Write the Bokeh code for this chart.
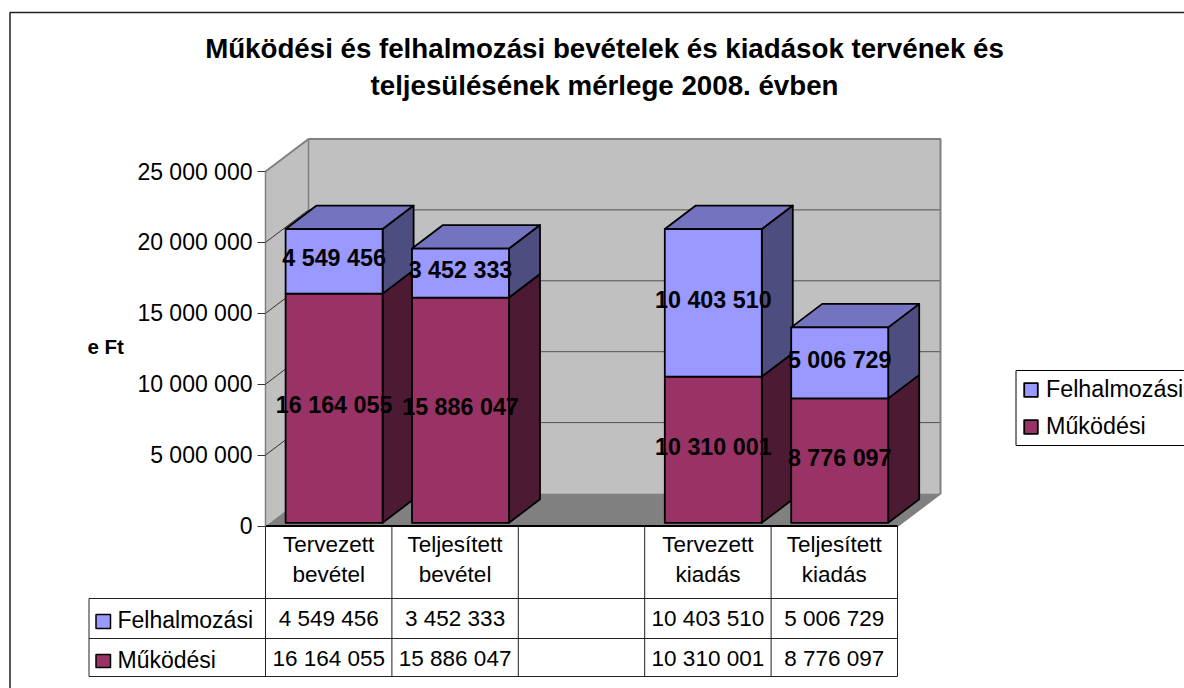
from bokeh.plotting import figure
from bokeh.models import Range1d, FixedTicker, LinearAxis, Legend, LegendItem
from bokeh.core.properties import value
from bokeh.embed import file_html
from bokeh.resources import INLINE

title_lines = ["Működési és felhalmozási bevételek és kiadások tervének és",
               "teljesülésének mérlege 2008. évben"]
categories = [["Tervezett", "bevétel"], ["Teljesített", "bevétel"], ["", ""],
              ["Tervezett", "kiadás"], ["Teljesített", "kiadás"]]
series_names = ["Felhalmozási", "Működési"]
felhalmozasi = [4549456, 3452333, None, 10403510, 5006729]
mukodesi = [16164055, 15886047, None, 10310001, 8776097]
y_ticks = [0, 5000000, 10000000, 15000000, 20000000, 25000000]
y_unit = "e Ft"

C_TOP, C_BOT = "#9999FF", "#993366"
C_TOP_SIDE, C_TOP_CAP, C_BOT_SIDE = "#4D4D80", "#7373BF", "#4D1A33"
FONT = "Liberation Sans"

W, H = 1184, 688
PX_X = 126.4            # px per category
PX_V = 14.18e-6         # px per value
PAGE_X0, PAGE_Y0 = 265, 525.5   # position of the origin


def fmt(v):
    return f"{v:,}".replace(",", " ")


def X(px):
    return (px - PAGE_X0) / PX_X


def Y(py):
    return (PAGE_Y0 - py) / PX_V


def dxp(px):
    return px / PX_X


def dyp(px):
    return px / PX_V


p = figure(width=W, height=H, output_backend="svg", toolbar_location=None, tools="",
           x_axis_location=None, y_axis_location=None,
           x_range=Range1d(X(0), X(W)), y_range=Range1d(Y(H), Y(0)),
           min_border_left=0, min_border_right=0, min_border_top=0, min_border_bottom=0,
           background_fill_color="white", border_fill_color="white")
p.grid.visible = False
p.outline_line_color = None

# walls and floor
WX, WY = dxp(43), dyp(32.5)
VMAX = y_ticks[-1]
N = len(categories)
p.patch([0, WX, WX, 0], [0, WY, VMAX + WY, VMAX], fill_color="#C0C0C0", line_color=None)
p.patch([WX, N + WX, N + WX, WX], [WY, WY, VMAX + WY, VMAX + WY], fill_color="#C0C0C0", line_color=None)
p.patch([0, N, N + WX, WX], [0, 0, WY, WY], fill_color="#808080", line_color=None)
for v in y_ticks[1:-1]:
    p.line([WX, N + WX], [v + WY, v + WY], line_color="#505050", line_width=1)
    p.line([0, WX], [v, v + WY], line_color="#333333", line_width=1)
p.line([0, WX, N + WX, N + WX, N], [VMAX, VMAX + WY, VMAX + WY, WY, 0], line_color="#808080", line_width=2)
p.line([WX, WX], [WY, VMAX + WY], line_color="#808080", line_width=1.5)

# value axis
ax = LinearAxis(fixed_location=0)
ax.ticker = FixedTicker(ticks=y_ticks)
ax.major_label_overrides = {v: fmt(v) for v in y_ticks}
ax.bounds = (0, VMAX)
ax.axis_line_color = "#808080"
ax.axis_line_width = 1.5
ax.major_tick_line_color = "#333333"
ax.major_tick_out = 8
ax.major_tick_in = 0
ax.minor_tick_line_color = None
ax.major_label_standoff = 5
ax.major_label_text_font = FONT
ax.major_label_text_font_size = "23px"
ax.major_label_text_color = "black"
p.add_layout(ax, "left")

# bars
BAR = 97 / PX_X
OFF = dxp(5.4)
BDX, BDY = dxp(31), dyp(23.5)
BASE = dyp(3.2)
idx = [i for i in range(N) if mukodesi[i] is not None]


def faces(lows, highs):
    left = [i + 0.5 + OFF - BAR / 2 for i in idx]
    right = [i + 0.5 + OFF + BAR / 2 for i in idx]
    sx = [[r, r + BDX, r + BDX, r] for r in right]
    sy = [[a, a + BDY, b + BDY, b] for a, b in zip(lows, highs)]
    return left, right, sx, sy


b0 = [BASE] * len(idx)
b1 = [BASE + mukodesi[i] for i in idx]
b2 = [BASE + mukodesi[i] + felhalmozasi[i] for i in idx]
left, right, s1x, s1y = faces(b0, b1)
_, _, s2x, s2y = faces(b1, b2)
line = dict(line_color="black", line_width=1.8, line_join="round")
p.patches(s1x, s1y, fill_color=C_BOT_SIDE, **line)
p.patches(s2x, s2y, fill_color=C_TOP_SIDE, **line)
capx = [[l, r, r + BDX, l + BDX] for l, r in zip(left, right)]
capy = [[t, t, t + BDY, t + BDY] for t in b2]
p.patches(capx, capy, fill_color=C_TOP_CAP, **line)
q_bot = p.quad(left=left, right=right, bottom=b0, top=b1, fill_color=C_BOT, **line)
q_top = p.quad(left=left, right=right, bottom=b1, top=b2, fill_color=C_TOP, **line)

# data labels
lab_x, lab_y, lab_t = [], [], []
for k, i in enumerate(idx):
    lab_x += [i + 0.5 + OFF] * 2
    lab_y += [(b0[k] + b1[k]) / 2 + dyp(3), (b1[k] + b2[k]) / 2 + dyp(3)]
    lab_t += [fmt(mukodesi[i]), fmt(felhalmozasi[i])]
p.text(lab_x, lab_y, text=lab_t, text_font=value(FONT), text_font_style="bold",
       text_font_size="23.3px", text_align="center", text_baseline="middle", text_color="black")

# data table
T_ROWS = [598, 638, 676]
T_LEFT = X(88.5)
for py in T_ROWS:
    p.line([T_LEFT, N], [Y(py), Y(py)], line_color="#222222", line_width=1)
p.line([T_LEFT, T_LEFT], [Y(T_ROWS[0]), Y(T_ROWS[-1])], line_color="#222222", line_width=1)
for c in range(N + 1):
    p.line([c, c], [0, Y(T_ROWS[-1])], line_color="#222222", line_width=1)
p.line([0, N], [0, 0], line_color="black", line_width=2)
h1, h2 = zip(*categories)
cx = [c + 0.5 for c in range(N)]
tkw = dict(text_font=value(FONT), text_font_size="22.5px", text_align="center",
           text_baseline="middle", text_color="black")
p.text(cx, [Y(544)] * N, text=list(h1), **tkw)
p.text(cx, [Y(574)] * N, text=list(h2), **tkw)
p.text([c + 0.5 for c in idx], [Y(618)] * len(idx), text=[fmt(felhalmozasi[i]) for i in idx], **tkw)
p.text([c + 0.5 for c in idx], [Y(658)] * len(idx), text=[fmt(mukodesi[i]) for i in idx], **tkw)
p.quad(left=[X(95.5), X(95.5)], right=[X(110), X(110)], top=[Y(614), Y(654)], bottom=[Y(628), Y(667)],
       fill_color=[C_TOP, C_BOT], line_color="black", line_width=1.5)
lkw = dict(text_font=value(FONT), text_font_size="23px", text_baseline="middle", text_color="black")
p.text([X(117), X(117)], [Y(619), Y(659)], text=series_names, **lkw)

# chart border
p.line([X(9.5), X(9.5), X(W)], [Y(H), Y(12), Y(12)], line_color="#222222", line_width=1.5)

# titles
p.text([X(604), X(604)], [Y(48), Y(85)], text=title_lines, text_font=value(FONT), text_font_style="bold",
       text_font_size="27.7px", text_align="center", text_baseline="middle", text_color="black")
p.text([X(87)], [Y(345.5)], text=[y_unit], text_font=value(FONT), text_font_style="bold",
       text_font_size="20.5px", text_baseline="middle", text_color="black")

# legend
p.quad(left=[X(1015.5)], right=[X(W + 20)], top=[Y(370)], bottom=[Y(445)],
       fill_color="white", line_color="black", line_width=1)
legend = Legend(items=[LegendItem(label=series_names[0], renderers=[q_top]),
                       LegendItem(label=series_names[1], renderers=[q_bot])],
                location=(1022, H - 440), margin=0, padding=5, spacing=10,
                glyph_width=17, glyph_height=17, label_standoff=7,
                label_text_font=FONT, label_text_font_size="23.3px", label_text_color="black",
                border_line_color=None, background_fill_alpha=0)
p.add_layout(legend, "center")

open("out.html", "w").write(file_html(p, INLINE))
